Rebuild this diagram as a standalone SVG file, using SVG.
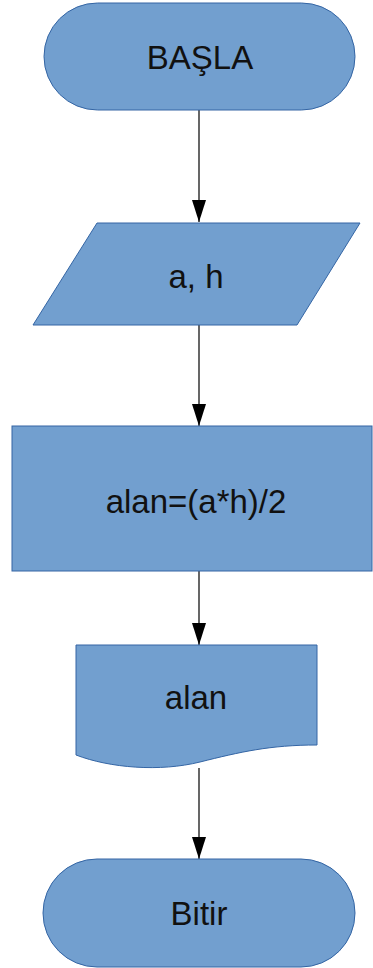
<svg xmlns="http://www.w3.org/2000/svg" width="373" height="968" viewBox="0 0 373 968">
<defs>
<style>
.shape{fill:#729fcf;stroke:#3465a4;stroke-width:1}
.lbl{font-family:"Liberation Sans",Arial,sans-serif;font-size:33px;fill:#111111;text-anchor:middle;dominant-baseline:central}
.conn{stroke:#000000;stroke-width:1.2;fill:none}
</style>
<marker id="arr" markerWidth="22" markerHeight="14" refX="22" refY="7" orient="auto" markerUnits="userSpaceOnUse" viewBox="0 0 22 14">
<path d="M0,0 L22,7 L0,14 Z" fill="#000000"/>
</marker>
</defs>
<rect width="373" height="968" fill="#ffffff"/>
<g id="connectors">
<line class="conn" x1="199" y1="110" x2="199" y2="222" marker-end="url(#arr)"/>
<line class="conn" x1="199" y1="325" x2="199" y2="426" marker-end="url(#arr)"/>
<line class="conn" x1="199" y1="571" x2="199" y2="645" marker-end="url(#arr)"/>
<line class="conn" x1="199" y1="768" x2="199" y2="859" marker-end="url(#arr)"/>
</g>
<g id="start">
<rect class="shape" x="44" y="3" width="311" height="107" rx="53.5" ry="53.5"/>
<text class="lbl" x="200" y="57">BAŞLA</text>
</g>
<g id="input">
<polygon class="shape" points="97,223 360,223 297,325 33,325"/>
<text class="lbl" x="196" y="276">a, h</text>
</g>
<g id="process">
<rect class="shape" x="12" y="426" width="360" height="145"/>
<text class="lbl" x="196" y="501">alan=(a*h)/2</text>
</g>
<g id="output">
<path class="shape" d="M76,645 H317 V745 C270,745 240,752 200,762 C160,772 110,768 76,755 Z"/>
<text class="lbl" x="196" y="697">alan</text>
</g>
<g id="end">
<rect class="shape" x="43" y="859" width="312" height="108" rx="54" ry="54"/>
<text class="lbl" x="199" y="913">Bitir</text>
</g>
</svg>
